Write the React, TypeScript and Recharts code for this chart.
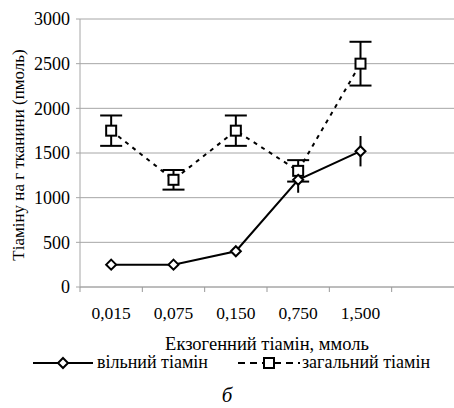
import React from 'react';
import { LineChart, Line, XAxis, YAxis, CartesianGrid, ErrorBar } from 'recharts';

const categories = ['0,015', '0,075', '0,150', '0,750', '1,500', ''];
const freeThiamine = [250, 250, 400, 1200, 1520, null];
const freeError = [0, 0, 0, 145, 170, null];
const totalThiamine = [1750, 1200, 1750, 1300, 2500, null];
const totalError = [170, 110, 170, 120, 245, null];
const yTicks = [0, 500, 1000, 1500, 2000, 2500, 3000];

const data = categories.map((c, i) => ({
  name: c,
  free: freeThiamine[i],
  freeErr: freeError[i],
  total: totalThiamine[i],
  totalErr: totalError[i],
}));

const FONT = '"Times New Roman", "Liberation Serif", "DejaVu Serif", serif';
const W = 454;
const H = 408;
const BAND = (W - 80) / categories.length;
const txt = { fontFamily: FONT };

const Diamond = (props: any) => {
  const { cx, cy } = props;
  if (cx == null || cy == null) return null;
  const r = 5;
  return (
    <polygon
      points={`${cx},${cy - r} ${cx + r},${cy} ${cx},${cy + r} ${cx - r},${cy}`}
      fill="#fff"
      stroke="#000"
      strokeWidth={2}
    />
  );
};

const Square = (props: any) => {
  const { cx, cy } = props;
  if (cx == null || cy == null) return null;
  return <rect x={cx - 5} y={cy - 5} width={10} height={10} fill="#fff" stroke="#000" strokeWidth={2} />;
};

const XTick = (props: any) => {
  const { x, payload } = props;
  const left = x - BAND / 2;
  return (
    <g>
      <line x1={left} y1={287} x2={left} y2={292} stroke="#999" />
      <text x={x} y={319} textAnchor="middle" fontSize={17.5} style={txt} fill="#000">
        {payload.value}
      </text>
    </g>
  );
};

const App = () => {
  return (
    <div style={{ position: 'absolute', left: 0, top: 0, width: W, height: H, background: '#fff', fontFamily: FONT }}>
      <LineChart width={W} height={H} data={data} margin={{ top: 19, right: 0, left: 0, bottom: 61 }} style={txt}>
        <CartesianGrid vertical={false} stroke="#a6a6a6" />
        <XAxis
          dataKey="name"
          scale="band"
          interval={0}
          height={60}
          axisLine={{ stroke: '#a6a6a6' }}
          tickLine={false}
          tick={<XTick />}
          label={{
            content: (p: any) => {
              const vb = p.viewBox;
              return (
                <text x={vb.x + vb.width / 2} y={350} textAnchor="middle" fontSize={18.5} style={txt} fill="#000">
                  Екзогенний тіамін, ммоль
                </text>
              );
            },
          }}
        />
        <YAxis
          width={80}
          domain={[0, 3000]}
          ticks={yTicks}
          interval={0}
          tickSize={4}
          tickMargin={6}
          axisLine={{ stroke: '#a6a6a6' }}
          tickLine={{ stroke: '#a6a6a6' }}
          tick={{ fontSize: 18, fill: '#000', style: txt }}
          label={{
            content: () => (
              <text
                x={18}
                y={155}
                transform="rotate(-90 18 155)"
                textAnchor="middle"
                dominantBaseline="central"
                fontSize={17}
                style={txt}
                fill="#000"
              >
                Тіаміну на г тканини (пмоль)
              </text>
            ),
          }}
        />
        <Line
          dataKey="total"
          stroke="#000"
          strokeWidth={2}
          strokeDasharray="4 5"
          dot={<Square />}
          activeDot={false}
          isAnimationActive={false}
        >
          <ErrorBar dataKey="totalErr" width={11} stroke="#000" strokeWidth={2} direction="y" isAnimationActive={false} />
        </Line>
        <Line
          dataKey="free"
          stroke="#000"
          strokeWidth={2}
          dot={<Diamond />}
          activeDot={false}
          isAnimationActive={false}
        >
          <ErrorBar dataKey="freeErr" width={0} stroke="#000" strokeWidth={2} direction="y" isAnimationActive={false} />
        </Line>
      </LineChart>
      <svg width={W} height={60} style={{ position: 'absolute', left: 0, top: 348, fontFamily: FONT }}>
        <line x1={33} y1={15} x2={93} y2={15} stroke="#000" strokeWidth={2} />
        <Diamond cx={63} cy={15} />
        <text x={97} y={20} fontSize={18} style={txt} fill="#000">вільний тіамін</text>
        <line x1={238} y1={15} x2={300} y2={15} stroke="#000" strokeWidth={2} strokeDasharray="7 5" />
        <Square cx={269} cy={15} />
        <text x={302} y={20} fontSize={18} style={txt} fill="#000">загальний тіамін</text>
        <text x={227} y={54} textAnchor="middle" fontSize={21} fontStyle="italic" style={txt} fill="#000">б</text>
      </svg>
    </div>
  );
};

export default App;
